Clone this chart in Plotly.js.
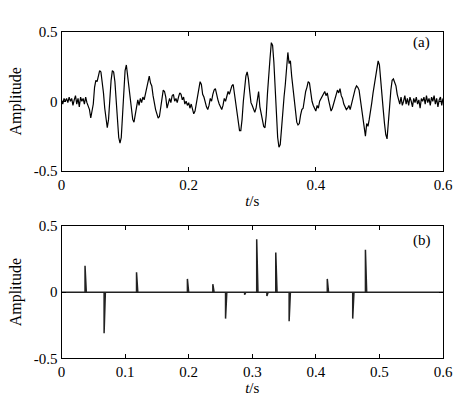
<!DOCTYPE html>
<html>
<head>
<meta charset="utf-8">
<script src="https://cdn.plot.ly/plotly-3.0.1.min.js"></script>
<style>html,body{margin:0;padding:0;background:#fff;}#chart{width:464px;height:409px;}</style>
</head>
<body>
<div id="chart"></div>
<script>
// ---- Data ----
// (a) measured signal, sampled every 0.002 s from t = 0 to t = 0.6 s
const sampleStep = 0.002;
const signalA = [
  0.01,-0.02,0.02,0.00,0.02,-0.01,0.03,0.00,0.02,-0.03,0.01,0.04,-0.02,0.02,-0.04,0.03,0.00,0.02,-0.02,0.03,-0.01,-0.04,-0.06,
  -0.12,-0.08,-0.02,0.10,0.15,0.14,0.19,0.22,0.21,0.14,0.06,-0.05,-0.14,-0.19,-0.13,0.02,0.15,0.22,0.21,0.14,0.00,-0.14,-0.26,-0.30,-0.26,-0.10,0.08,0.22,0.26,0.18,0.08,0.01,-0.06,-0.13,-0.15,-0.10,-0.02,
  0.01,-0.03,0.02,-0.01,0.03,0.01,0.05,0.09,0.12,0.18,0.13,0.11,0.04,-0.02,-0.06,-0.09,-0.12,-0.11,-0.04,0.04,0.08,0.07,0.03,-0.05,-0.02,0.02,-0.01,0.04,0.05,0.00,
  0.02,-0.01,0.03,0.06,0.05,0.01,0.03,-0.02,0.00,-0.03,-0.01,-0.05,-0.02,-0.06,-0.09,-0.07,-0.02,0.06,0.10,0.14,0.12,0.05,0.03,-0.01,-0.04,-0.06,-0.03,0.02,0.00,0.05,
  0.08,0.09,0.04,0.01,-0.02,-0.04,-0.06,-0.03,0.02,0.00,0.04,0.07,0.05,0.09,0.11,0.12,0.06,-0.02,-0.08,-0.14,-0.21,-0.21,-0.13,0.00,0.12,0.18,0.21,0.16,0.07,-0.01,
  -0.03,-0.06,-0.08,-0.05,0.02,0.07,-0.04,-0.08,-0.12,-0.18,-0.19,-0.10,0.06,
  0.22,0.31,0.42,0.40,0.28,0.10,-0.10,-0.26,-0.33,-0.31,-0.20,-0.06,0.03,0.12,0.26,0.35,0.27,0.29,0.18,
  0.10,0.00,-0.09,-0.15,-0.17,-0.16,-0.10,-0.06,-0.05,0.02,0.07,0.10,0.14,0.13,0.05,0.00,-0.03,-0.05,
  -0.07,-0.03,-0.05,0.00,0.02,0.03,0.05,0.07,0.04,0.06,0.01,-0.03,-0.07,-0.05,-0.02,0.02,0.04,0.08,0.06,0.09,0.04,0.02,-0.02,-0.04,-0.06,-0.05,-0.03,-0.06,-0.02,0.00,
  0.05,0.09,0.11,0.10,0.08,0.02,-0.06,-0.13,-0.16,-0.25,-0.16,-0.18,-0.13,-0.08,-0.01,0.06,0.12,0.18,0.24,0.29,
  0.26,0.17,0.05,-0.06,-0.16,-0.24,-0.27,-0.18,-0.04,0.08,0.15,0.16,0.14,0.11,0.05,
  0.02,-0.02,0.03,-0.03,0.00,0.04,-0.02,0.02,-0.03,0.03,0.00,-0.04,0.02,-0.01,0.03,-0.02,0.01,-0.05,0.02,0.00,0.03,-0.02,0.04,-0.01,0.02,-0.03,0.03,0.00,0.04,-0.02,0.02,-0.04,0.01,0.03,-0.03,0.02
];
// (b) sparse impulse components
const spikeTimes = [0.037, 0.067, 0.118, 0.198, 0.238, 0.258, 0.288, 0.307, 0.323, 0.337, 0.358, 0.418, 0.458, 0.478];
const spikeValues = [0.20, -0.31, 0.15, 0.10, 0.06, -0.20, -0.02, 0.40, -0.03, 0.30, -0.22, 0.10, -0.20, 0.32];
const xTicksA = [0, 0.2, 0.4, 0.6];
const xTicksB = [0, 0.1, 0.2, 0.3, 0.4, 0.5, 0.6];
const yTicks = [-0.5, 0, 0.5];
const yTickText = ['-0.5', '0', '0.5'];

// ---- Build traces ----
const timeA = signalA.map((_, i) => +(i * sampleStep).toFixed(4));
const xB = [0], yB = [0];
spikeTimes.forEach((t, k) => {
  xB.push(t, t, t + sampleStep);
  yB.push(0, spikeValues[k], 0);
});
xB.push(0.6); yB.push(0);

const font = {family: 'Liberation Serif, Times New Roman, serif', size: 15, color: '#000'};
const axisCommon = {
  showline: true, mirror: 'ticks', linecolor: '#000', linewidth: 1,
  ticks: 'inside', ticklen: 4, tickcolor: '#000', tickwidth: 1,
  showgrid: false, zeroline: false, tickfont: font
};

const traces = [
  {x: timeA, y: signalA, type: 'scatter', mode: 'lines', xaxis: 'x', yaxis: 'y',
   line: {color: '#000', width: 1.2}, hoverinfo: 'skip'},
  {x: xB, y: yB, type: 'scatter', mode: 'lines', xaxis: 'x2', yaxis: 'y2',
   line: {color: '#222', width: 1.5}, hoverinfo: 'skip'}
];

const L = 61.5 / 464, R = 443 / 464;
const layout = {
  width: 464, height: 409,
  margin: {l: 0, r: 0, t: 0, b: 0},
  paper_bgcolor: '#fff', plot_bgcolor: '#fff',
  showlegend: false, font: font,
  xaxis: Object.assign({}, axisCommon, {
    domain: [L, R], anchor: 'y', range: [0, 0.6], tickvals: xTicksA,
    ticktext: xTicksA.map(String),
    title: {text: '<i>t</i>/s', font: font, standoff: 3}
  }),
  yaxis: Object.assign({}, axisCommon, {
    domain: [1 - 171 / 409, 1 - 31.5 / 409], anchor: 'x', range: [-0.5, 0.5],
    tickvals: yTicks, ticktext: yTickText,
    title: {text: 'Amplitude', font: Object.assign({}, font, {size: 16}), standoff: 8}
  }),
  xaxis2: Object.assign({}, axisCommon, {
    domain: [L, R], anchor: 'y2', range: [0, 0.6], tickvals: xTicksB,
    ticktext: xTicksB.map(String),
    title: {text: '<i>t</i>/s', font: font, standoff: 2}
  }),
  yaxis2: Object.assign({}, axisCommon, {
    domain: [1 - 358.3 / 409, 1 - 226 / 409], anchor: 'x2', range: [-0.5, 0.5],
    tickvals: yTicks, ticktext: yTickText,
    title: {text: 'Amplitude', font: Object.assign({}, font, {size: 16}), standoff: 8}
  }),
  annotations: [
    {text: '(a)', xref: 'paper', yref: 'paper', x: 421.7 / 464, y: 1 - 43 / 409,
     xanchor: 'center', yanchor: 'middle', showarrow: false, font: font},
    {text: '(b)', xref: 'paper', yref: 'paper', x: 421.7 / 464, y: 1 - 240 / 409,
     xanchor: 'center', yanchor: 'middle', showarrow: false, font: font}
  ]
};

Plotly.newPlot('chart', traces, layout, {staticPlot: true, displayModeBar: false});
</script>
</body>
</html>
